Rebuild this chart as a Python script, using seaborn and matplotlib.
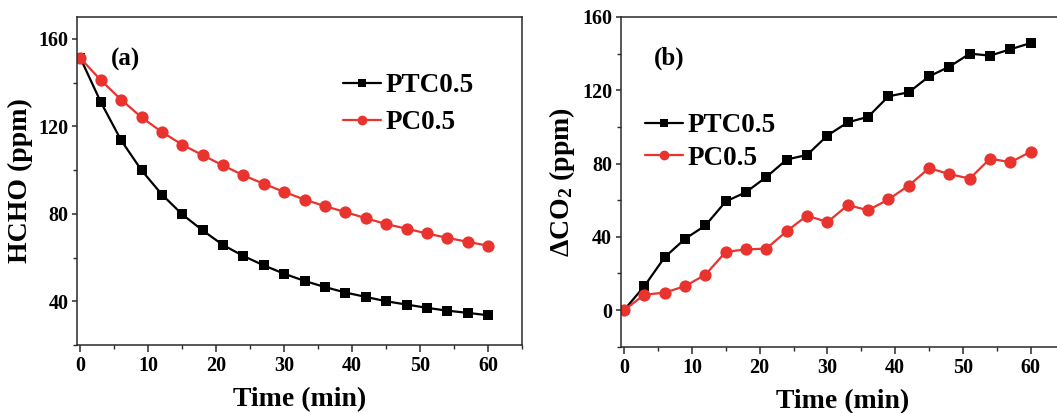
import numpy as np
import pandas as pd
import matplotlib
matplotlib.use("Agg")
import matplotlib.pyplot as plt
import seaborn as sns
from matplotlib.ticker import MultipleLocator

# ---- data ----
time_min = [0, 3, 6, 9, 12, 15, 18, 21, 24, 27, 30, 33, 36, 39, 42, 45, 48, 51, 54, 57, 60]

hcho_ptc = [151.2, 131.1, 113.6, 99.9, 88.8, 79.7, 72.4, 65.7, 60.7, 56.4, 52.6,
            49.3, 46.5, 44.0, 42.0, 40.0, 38.5, 37.0, 35.7, 34.7, 33.6]
hcho_pc = [151.2, 141.1, 132.2, 124.1, 117.4, 111.6, 106.8, 102.1, 97.6, 93.7, 90.0,
           86.5, 83.5, 80.8, 78.0, 75.3, 73.2, 71.0, 69.0, 67.2, 65.4]

co2_ptc = [0.0, 13.1, 28.9, 38.9, 46.2, 59.3, 64.4, 72.7, 82.2, 84.7, 95.3,
           102.5, 105.5, 116.7, 118.9, 127.6, 132.9, 140.0, 138.9, 142.4, 145.8]
co2_pc = [0.0, 8.4, 9.5, 13.1, 19.3, 31.8, 33.1, 33.6, 43.1, 51.6, 48.0,
          57.3, 54.5, 60.4, 68.0, 77.5, 74.2, 71.8, 82.7, 80.7, 86.5]

series_names = ["PTC0.5", "PC0.5"]
panel_labels = ["(a)", "(b)"]

# ---- style ----
sns.set_theme(style="ticks")
plt.rcParams["font.family"] = ["Liberation Serif", "DejaVu Serif"]
plt.rcParams["font.weight"] = "bold"
plt.rcParams["axes.labelweight"] = "bold"
plt.rcParams["text.color"] = "black"
plt.rcParams["axes.labelcolor"] = "black"
plt.rcParams["xtick.labelcolor"] = "black"
plt.rcParams["ytick.labelcolor"] = "black"
plt.rcParams["mathtext.fontset"] = "custom"
plt.rcParams["mathtext.rm"] = "Liberation Serif:bold"
plt.rcParams["mathtext.it"] = "Liberation Serif:bold"
plt.rcParams["mathtext.bf"] = "Liberation Serif:bold"

RED = "#E8332E"
BLACK = "#000000"
SPINE = "#2a2a2a"

fig = plt.figure(figsize=(10.57, 4.13), dpi=100)
W, H = 1057, 413
ax_a = fig.add_axes([77 / W, (H - 345) / H, 445 / W, 328 / H])
ax_b = fig.add_axes([620.7 / W, (H - 346.7) / H, 444 / W, 329.7 / H])

def draw(ax, y1, y2):
    df1 = pd.DataFrame({"t": time_min, "v": y1})
    df2 = pd.DataFrame({"t": time_min, "v": y2})
    sns.lineplot(data=df1, x="t", y="v", ax=ax, color=BLACK, marker="s",
                 markersize=7.8, markeredgewidth=0, linewidth=1.6,
                 label=series_names[0])
    sns.lineplot(data=df2, x="t", y="v", ax=ax, color=RED, marker="o",
                 markersize=8.8, markeredgewidth=0, linewidth=1.6,
                 label=series_names[1])

draw(ax_a, hcho_ptc, hcho_pc)
draw(ax_b, co2_ptc, co2_pc)

for ax in (ax_a, ax_b):
    ax.set_xlim(-0.5, 65)
    ax.xaxis.set_major_locator(MultipleLocator(10))
    ax.xaxis.set_minor_locator(MultipleLocator(5))
    ax.yaxis.set_major_locator(MultipleLocator(40))
    ax.yaxis.set_minor_locator(MultipleLocator(20))
    ax.tick_params(axis="x", which="major", direction="out", length=5, width=1.1,
                   color=SPINE, labelsize=14.5, pad=3)
    ax.tick_params(axis="x", which="minor", direction="out", length=3, width=1.0,
                   color=SPINE)
    ax.tick_params(axis="y", which="major", direction="out", length=3.6, width=1.1,
                   color=SPINE, labelsize=14.5, pad=2.5)
    ax.tick_params(axis="y", which="minor", direction="out", length=2.6, width=1.0,
                   color=SPINE)
    for lab in ax.get_xticklabels() + ax.get_yticklabels():
        lab.set_fontweight("bold")
    for s in ax.spines.values():
        s.set_visible(True)
        s.set_color(SPINE)
        s.set_linewidth(1.1)
    ax.set_xlabel("Time (min)", fontsize=20, fontweight="bold", labelpad=8)

ax_a.set_ylim(20, 170)
ax_b.set_ylim(-20, 160)

ax_a.set_ylabel("HCHO (ppm)", fontsize=20, fontweight="bold", labelpad=4)
ax_b.set_ylabel("ΔCO$_2$ (ppm)", fontsize=20, fontweight="bold", labelpad=4)

ax_a.text(0.075, 0.872, panel_labels[0], transform=ax_a.transAxes, fontsize=18,
          fontweight="bold", va="center", ha="left")
ax_b.text(0.075, 0.876, panel_labels[1], transform=ax_b.transAxes, fontsize=18,
          fontweight="bold", va="center", ha="left")

leg_kw = dict(frameon=False, handlelength=1.4, handletextpad=0.18,
              markerscale=0.8, borderaxespad=0, borderpad=0,
              prop={"family": "Liberation Serif", "weight": "bold", "size": 19.5})
ax_a.legend(loc="upper left", bbox_to_anchor=((343 - 77) / 445, 1 - (73 - 17) / 328),
            labelspacing=0.45, **leg_kw)
ax_b.legend(loc="upper left", bbox_to_anchor=((645 - 620.7) / 444, 1 - (113 - 17) / 329.7),
            labelspacing=0.28, **leg_kw)

fig.savefig("out.png", dpi=100)
